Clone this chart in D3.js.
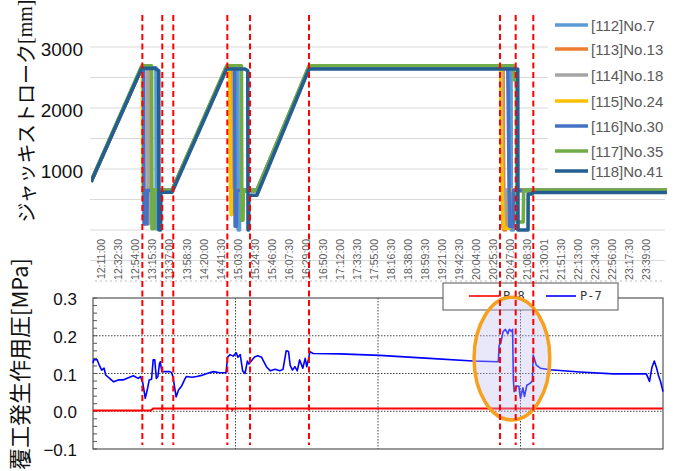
<!DOCTYPE html>
<html>
<head>
<meta charset="utf-8">
<script src="https://cdn.jsdelivr.net/npm/d3@7/dist/d3.min.js"></script>
<style>
  body { margin: 0; background: #fff; }
  svg { display: block; }
</style>
</head>
<body>
<svg id="chart" width="676" height="471"></svg>
<script>
// ---- data -------------------------------------------------------------

// category labels under the jack stroke chart
const strokeTickLabels = [
  "12:11:00","12:32:30","12:54:00","13:15:30","13:37:00","13:58:30","14:20:00",
  "14:41:30","15:03:00","15:24:30","15:46:00","16:07:30","16:29:00","16:50:30",
  "17:12:00","17:33:30","17:55:00","18:16:30","18:38:00","18:59:30","19:21:00",
  "19:42:30","20:04:00","20:25:30","20:47:00","21:08:30","21:30:01","21:51:30",
  "22:13:00","22:34:30","22:56:00","23:17:30","23:39:00"
];
const strokeTicks = [1000, 2000, 3000];
const strokeGrid = [-500, 0, 500, 1000, 1500, 2000, 2500, 3000];

// jack stroke [mm] per jack: [time, stroke]
const no7 = [["11:57:30",790],["13:01:30",2660],["13:19:30",2660],["13:20:00",20],["13:22:00",20],["13:22:30",650],["13:39:50",650],["14:48:40",2660],["15:03:00",2660],["15:03:30",0],["15:05:00",0],["15:05:30",640],["15:27:00",640],["16:32:50",2660],["20:48:00",2660],["20:48:30",0],["20:51:00",0],["20:51:30",650],["24:05:00",650]];
const no13 = [["11:57:30",790],["13:01:30",2660],["13:11:00",2660],["13:11:30",130],["13:12:30",130],["13:13:00",650],["13:39:50",650],["14:48:40",2660],["14:56:30",2660],["14:57:00",300],["14:57:40",300],["14:58:00",650],["15:27:00",650],["16:32:50",2660],["20:38:00",2660],["20:39:00",0],["20:41:00",0],["20:41:30",650],["24:05:00",650]];
const no18 = [["11:57:30",790],["13:01:30",2660],["13:09:00",2660],["13:09:30",100],["13:10:00",100],["13:10:30",650],["13:39:50",650],["14:48:40",2660],["14:58:00",2660],["14:58:30",350],["14:59:00",350],["14:59:20",650],["15:27:00",650],["16:32:50",2660],["20:37:00",2660],["20:37:40",50],["20:40:00",50],["20:40:30",650],["24:05:00",650]];
const no24 = [["11:57:30",790],["13:01:30",2660],["13:02:30",2660],["13:03:00",600],["13:04:00",650],["13:39:50",650],["14:48:40",2660],["14:52:30",2660],["14:53:30",900],["14:54:30",250],["14:55:00",250],["14:55:20",650],["15:27:00",650],["16:32:50",2660],["20:35:00",2660],["20:36:00",1200],["20:37:30",300],["20:39:00",30],["20:45:40",30],["20:46:00",650],["24:05:00",650]];
const no30 = [["11:57:30",790],["13:01:30",2660],["13:04:00",2660],["13:04:30",100],["13:08:00",100],["13:08:30",650],["13:39:50",650],["14:48:40",2660],["14:59:00",2660],["14:59:30",60],["15:01:00",60],["15:01:30",650],["15:27:00",650],["16:32:50",2660],["20:44:00",2660],["20:45:00",1500],["20:46:00",60],["20:50:30",60],["20:51:00",650],["24:05:00",650]];
const no35 = [["11:57:30",800],["13:01:30",2690],["13:14:00",2690],["13:14:30",20],["13:17:00",20],["13:17:30",650],["13:39:50",650],["14:48:40",2690],["15:07:30",2690],["15:08:00",160],["15:09:30",160],["15:10:00",650],["15:27:00",650],["16:32:50",2690],["20:51:30",2690],["20:52:00",2460],["20:55:00",2460],["20:55:30",130],["21:03:30",130],["21:04:00",650],["24:05:00",650]];
const no41 = [["11:57:30",790],["13:01:30",2650],["13:18:20",2650],["13:23:00",2610],["13:23:20",0],["13:25:20",0],["13:25:40",620],["13:39:50",620],["14:48:40",2640],["15:12:00",2640],["15:15:30",2610],["15:15:50",0],["15:16:30",0],["15:16:50",570],["15:27:00",570],["16:32:50",2640],["20:56:30",2640],["20:56:50",0],["21:09:30",0],["21:09:40",590],["21:15:00",590],["21:15:20",615],["24:05:00",615]];

const jackNames = ["[112]No.7","[113]No.13","[114]No.18","[115]No.24","[116]No.30","[117]No.35","[118]No.41"];
const jackSeries = [no7, no13, no18, no24, no30, no35, no41];
const jackColors = ["#5b9bd5","#ed7d31","#a5a5a5","#ffc000","#4472c4","#70ad47","#255e91"];

// lining pressure [MPa]
const p7Times = ["12:00","12:01","12:05","12:08","12:11","12:14","12:16","12:21","12:26","12:32","12:38","12:47","12:51","12:57","13:00","13:03","13:06","13:09","13:11","13:14","13:16","13:18","13:20","13:22","13:24","13:25","13:27","13:31","13:37","13:39","13:41","13:45","13:48","13:52","13:56","13:58","14:05","14:11","14:17","14:24","14:32","14:40","14:48","14:50","14:53","14:57","15:01","15:03","15:06","15:09","15:12","15:15","15:17","15:20","15:24","15:28","15:33","15:39","15:44","15:50","15:56","16:00","16:04","16:07","16:09","16:12","16:15","16:18","16:21","16:25","16:28","16:30","16:32","16:34","16:38","17:12","17:37","18:02","19:05","20:00","20:32","20:33","20:35","20:38","20:41","20:44","20:46","20:49","20:50","20:51","20:52","20:55","20:58","21:00","21:03","21:05","21:08","21:12","21:15","21:16","21:20","21:25","21:37","22:15","22:57","23:39","23:43","23:46","23:49","23:52","23:54","23:57","24:00"];
const p7Values = [0.128,0.136,0.137,0.122,0.109,0.114,0.096,0.087,0.078,0.083,0.083,0.091,0.094,0.087,0.092,0.074,0.034,0.061,0.083,0.085,0.136,0.136,0.087,0.092,0.127,0.131,0.105,0.105,0.105,0.103,0.092,0.038,0.056,0.067,0.085,0.092,0.090,0.092,0.095,0.100,0.105,0.102,0.102,0.143,0.150,0.146,0.155,0.143,0.150,0.107,0.100,0.133,0.125,0.133,0.144,0.147,0.143,0.118,0.107,0.111,0.107,0.111,0.160,0.158,0.122,0.109,0.118,0.107,0.136,0.114,0.140,0.118,0.136,0.158,0.153,0.152,0.150,0.148,0.140,0.133,0.131,0.175,0.180,0.211,0.217,0.205,0.217,0.211,0.217,0.083,0.052,0.067,0.066,0.034,0.062,0.039,0.069,0.074,0.080,0.149,0.122,0.114,0.110,0.104,0.099,0.099,0.079,0.116,0.133,0.114,0.097,0.078,0.052];
const p8Times = ["12:00","13:13","13:16","14:55","14:56","14:57","24:00"];
const p8Values = [0.002,0.002,0.007,0.007,0.004,0.007,0.007];

const pressureTicks = [0.3, 0.2, 0.1, 0.0, -0.1];
const pressureGrid = [0.2, 0.1, 0.0];
const pressureVGrid = ["15:00","18:00","21:00"];

// event markers (red dashed) and highlighted window
const markerTimes = ["13:02:20","13:27:30","13:41:25","14:49:40","15:18:20","16:32:50","20:34:05","20:53:55","21:16:10"];
const highlight = { from: "20:01:20", to: "21:37:00", top: 0.302, bottom: -0.023 };

// ---- helpers ----------------------------------------------------------
function toMin(t) {
  const p = t.split(":").map(Number);
  return (p[0] - 12) * 60 + p[1] + (p[2] || 0) / 60;
}

const svg = d3.select("#chart");
const x = d3.scaleLinear().domain([0, 720]).range([93, 663]);
const yS = d3.scaleLinear().domain([-500, 3000]).range([260.5, 47]);
const yP = d3.scaleLinear().domain([-0.1, 0.3]).range([449, 298]);

const defs = svg.append("defs");
defs.append("clipPath").attr("id", "clipTop")
  .append("rect").attr("x", 91).attr("y", 0).attr("width", 576).attr("height", 245);

// ---- jack stroke chart -----------------------------------------------
const gStroke = svg.append("g");

gStroke.selectAll("line.grid").data(strokeGrid).join("line")
  .attr("class", "grid")
  .attr("x1", 90).attr("x2", 665)
  .attr("y1", d => yS(d)).attr("y2", d => yS(d))
  .attr("stroke", "#d9d9d9").attr("stroke-width", 1);

gStroke.selectAll("text.ytick").data(strokeTicks).join("text")
  .attr("class", "ytick")
  .attr("x", 83).attr("y", d => yS(d) + 2)
  .attr("text-anchor", "end").attr("dominant-baseline", "central")
  .attr("font-family", "Liberation Sans, Arial, sans-serif")
  .attr("font-size", 19).attr("fill", "#111")
  .text(d => d);

gStroke.selectAll("text.xtick").data(strokeTickLabels).join("text")
  .attr("class", "xtick")
  .attr("transform", d => `translate(${x(toMin(d))},239) rotate(-90)`)
  .attr("text-anchor", "end").attr("dy", "0.35em")
  .attr("font-family", "Liberation Sans, Arial, sans-serif")
  .attr("font-size", 10.5).attr("fill", "#595959")
  .text(d => d);

const strokeLine = d3.line()
  .x(d => x(toMin(d[0])))
  .y(d => yS(d[1]));

gStroke.append("g").attr("clip-path", "url(#clipTop)")
  .selectAll("path").data(jackSeries).join("path")
  .attr("d", strokeLine)
  .attr("fill", "none")
  .attr("stroke", (d, i) => jackColors[i])
  .attr("stroke-width", 3.6)
  .attr("stroke-linejoin", "round");

// legend
const legendY = [25, 49, 75, 101, 126, 151, 171];
const leg = gStroke.append("g");
leg.append("rect").attr("x", 548).attr("y", 8).attr("width", 128).attr("height", 177).attr("fill", "#fff");
const li = leg.selectAll("g").data(jackNames).join("g")
  .attr("transform", (d, i) => `translate(0,${legendY[i]})`);
li.append("line").attr("x1", 555).attr("x2", 588).attr("y1", 0).attr("y2", 0)
  .attr("stroke", (d, i) => jackColors[i]).attr("stroke-width", 3.5);
li.append("text").attr("x", 591).attr("y", 0).attr("dominant-baseline", "central")
  .attr("font-family", "Liberation Sans, Arial, sans-serif")
  .attr("font-size", 15).attr("fill", "#595959")
  .text(d => d);

// axis title
const t1 = gStroke.append("text")
  .attr("transform", "translate(25,111) rotate(-90)")
  .attr("text-anchor", "middle").attr("dominant-baseline", "central")
  .attr("fill", "#111").attr("font-size", 20);
t1.append("tspan").attr("font-family", "Noto Sans CJK JP, sans-serif").text("ジャッキストローク");
t1.append("tspan").attr("font-family", "Liberation Serif, serif").text("[mm]");

// ---- lining pressure chart -------------------------------------------
const gPress = svg.append("g");

gPress.append("line").attr("x1", 95).attr("x2", 663).attr("y1", 281).attr("y2", 281)
  .attr("stroke", "#bbb").attr("stroke-dasharray", "2,3");

gPress.append("rect").attr("x", 93).attr("y", 298).attr("width", 570).attr("height", 151)
  .attr("fill", "#fff");

gPress.selectAll("line.hgrid").data(pressureGrid).join("line")
  .attr("class", "hgrid")
  .attr("x1", 93).attr("x2", 663)
  .attr("y1", d => yP(d)).attr("y2", d => yP(d))
  .attr("stroke", "#444").attr("stroke-dasharray", "1.5,1.5");

gPress.selectAll("line.vgrid").data(pressureVGrid).join("line")
  .attr("class", "vgrid")
  .attr("x1", d => x(toMin(d))).attr("x2", d => x(toMin(d)))
  .attr("y1", 298).attr("y2", 449)
  .attr("stroke", "#444").attr("stroke-dasharray", "1.5,1.5");

gPress.selectAll("line.minor").data(d3.range(-0.1, 0.3001, 0.02)).join("line")
  .attr("class", "minor")
  .attr("x1", 93).attr("x2", 97)
  .attr("y1", d => yP(d)).attr("y2", d => yP(d))
  .attr("stroke", "#555");

gPress.append("rect").attr("x", 93).attr("y", 298).attr("width", 570).attr("height", 151)
  .attr("fill", "none").attr("stroke", "#555").attr("stroke-width", 1.2);

gPress.selectAll("text.ptick").data(pressureTicks).join("text")
  .attr("class", "ptick")
  .attr("x", 77).attr("y", d => yP(d) + 1.5)
  .attr("text-anchor", "end").attr("dominant-baseline", "central")
  .attr("font-family", "Liberation Sans, Arial, sans-serif")
  .attr("font-size", 17).attr("fill", "#111")
  .text(d => d3.format(".1f")(d));

const pLine = d3.line().x(d => x(toMin(d[0]))).y(d => yP(d[1]));
const p8 = p8Times.map((t, i) => [t, p8Values[i]]);
const p7 = p7Times.map((t, i) => [t, p7Values[i]]);

gPress.append("path").attr("d", pLine(p8)).attr("fill", "none")
  .attr("stroke", "#ff0000").attr("stroke-width", 2);
gPress.append("path").attr("d", pLine(p7)).attr("fill", "none")
  .attr("stroke", "#0000ff").attr("stroke-width", 1.6).attr("stroke-linejoin", "round");

// legend box
const pl = gPress.append("g");
pl.append("rect").attr("x", 443).attr("y", 283).attr("width", 175).attr("height", 27)
  .attr("fill", "#fff").attr("stroke", "#555").attr("stroke-width", 1);
const pItems = [["P-8", "#ff0000", 469], ["P-7", "#0000ff", 546]];
pItems.forEach(([name, col, lx]) => {
  pl.append("line").attr("x1", lx).attr("x2", lx + 30).attr("y1", 296).attr("y2", 296)
    .attr("stroke", col).attr("stroke-width", 1.6);
  pl.append("text").attr("x", lx + 34).attr("y", 296).attr("dominant-baseline", "central")
    .attr("font-family", "DejaVu Sans Mono, monospace").attr("font-size", 12)
    .attr("fill", "#333").text(name);
});

// axis title
gPress.append("text")
  .attr("transform", "translate(18,470) rotate(-90)")
  .attr("text-anchor", "start").attr("dominant-baseline", "central")
  .attr("font-family", "Noto Sans CJK JP, sans-serif")
  .attr("font-size", 22).attr("fill", "#111")
  .text("覆工発生作用圧[MPa]");

// highlighted window
const hx0 = x(toMin(highlight.from)), hx1 = x(toMin(highlight.to));
const hy0 = yP(highlight.top), hy1 = yP(highlight.bottom);
svg.append("ellipse")
  .attr("cx", (hx0 + hx1) / 2).attr("cy", (hy0 + hy1) / 2)
  .attr("rx", (hx1 - hx0) / 2).attr("ry", (hy1 - hy0) / 2)
  .attr("fill", "rgba(190,190,240,0.35)")
  .attr("stroke", "#f7a01e").attr("stroke-width", 3.5);

// event markers spanning both charts
svg.selectAll("line.marker").data(markerTimes).join("line")
  .attr("class", "marker")
  .attr("x1", d => x(toMin(d))).attr("x2", d => x(toMin(d)))
  .attr("y1", 15).attr("y2", 445)
  .attr("stroke", "#ff0000").attr("stroke-width", 2)
  .attr("stroke-dasharray", "6,3.5");
</script>
</body>
</html>
